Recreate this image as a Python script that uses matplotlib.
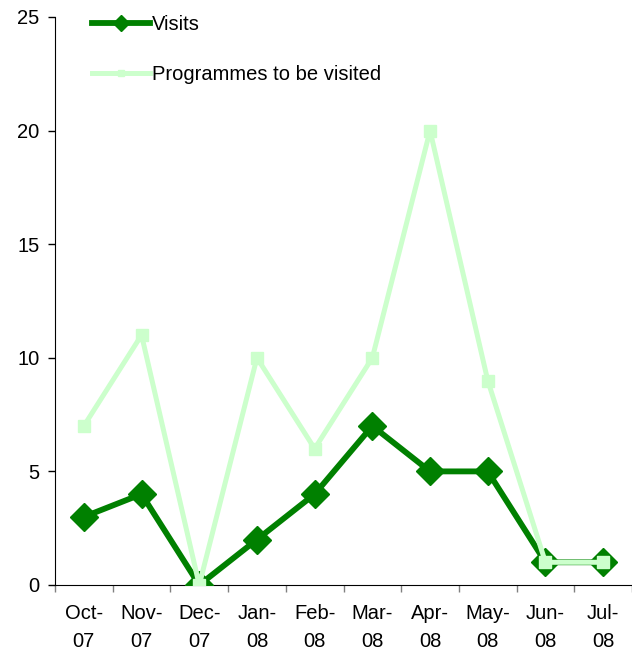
import matplotlib
matplotlib.use("Agg")
import matplotlib.pyplot as plt

plt.rcParams["font.family"] = ["Liberation Sans", "DejaVu Sans"]

months = ["Oct-\n07", "Nov-\n07", "Dec-\n07", "Jan-\n08", "Feb-\n08",
          "Mar-\n08", "Apr-\n08", "May-\n08", "Jun-\n08", "Jul-\n08"]
visits = [3, 4, 0, 2, 4, 7, 5, 5, 1, 1]
programmes = [7, 11, 0, 10, 6, 10, 20, 9, 1, 1]

DARK = "#008000"
LIGHT = "#CCFFCC"

fig = plt.figure(figsize=(6.32, 6.51), dpi=100)
ax = fig.add_axes([55 / 632, 1 - 585 / 651, 1 - 55 / 632, (585 - 17) / 651])

x = list(range(len(months)))
ax.plot(x, visits, color=DARK, lw=4.2, marker="D", ms=14, mec=DARK, mfc=DARK,
        label="Visits", zorder=3)
ax.plot(x, programmes, color=LIGHT, lw=3.6, marker="s", ms=8, mec=LIGHT, mfc=LIGHT,
        label="Programmes to be visited", zorder=4)

ax.set_ylim(0, 25)
ax.set_yticks([0, 5, 10, 15, 20, 25])
ax.set_xlim(-0.5, (632 - 55) / 59 - 0.5)

# category labels centred, tick marks between categories
ax.set_xticks([i - 0.5 for i in range(len(months) + 1)])
ax.set_xticklabels([])
ax.set_xticks(x, minor=True)
ax.set_xticklabels(months, minor=True, fontsize=14.5, linespacing=1.55)
ax.tick_params(axis="x", which="minor", length=0, pad=14)
ax.tick_params(axis="x", which="major", length=5, width=1, direction="out", color="#808080")
ax.tick_params(axis="y", length=5, width=1, direction="out", labelsize=14.5, pad=6)

for s in ["top", "right"]:
    ax.spines[s].set_visible(False)
ax.spines["left"].set_color("black")
ax.spines["bottom"].set_color("black")

leg = ax.legend(loc="upper left", bbox_to_anchor=(0.032, 1.035), frameon=False,
                fontsize=14.5, labelspacing=1.55, handlelength=2.9, handletextpad=0.1,
                markerscale=0.6)

fig.savefig("out.png", dpi=100)
